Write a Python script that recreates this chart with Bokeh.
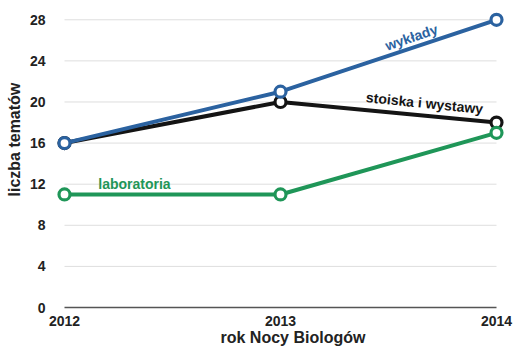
from bokeh.plotting import figure
from bokeh.models import FixedTicker, Label, ColumnDataSource, Title
from bokeh.embed import file_html
from bokeh.resources import INLINE
import math

# Number of topics per year of the "Noc Biologów" event
years = [2012, 2013, 2014]
wyklady = [16, 21, 28]
stoiska = [16, 20, 18]
laboratoria = [11, 11, 17]

y_ticks = [0, 4, 8, 12, 16, 20, 24, 28]

BLUE = "#2b62a0"
BLACK = "#141414"
GREEN = "#1f9658"
FONT = "Liberation Sans"

pad = 9 / 216
p = figure(width=513, height=346, output_backend="svg", toolbar_location=None,
           x_range=(years[0] - pad, years[-1] + pad), y_range=(0, 29),
           min_border_left=55, min_border_right=8, min_border_top=9, min_border_bottom=37)
p.outline_line_color = None
p.xgrid.visible = False
p.ygrid.visible = False

# light horizontal guides spanning the year range
grid_src = ColumnDataSource(dict(y=[t for t in y_ticks if t > 0]))
p.segment(x0=years[0], x1=years[-1], y0="y", y1="y", source=grid_src,
          line_color="#dedede", line_width=1)

for ax in (p.xaxis[0], p.yaxis[0]):
    ax.major_tick_line_color = None
    ax.minor_tick_line_color = None
    ax.major_label_text_font = FONT
    ax.major_label_text_font_style = "bold"
    ax.major_label_text_font_size = "14px"
    ax.major_label_text_color = "#222222"

p.xaxis.ticker = FixedTicker(ticks=years)
p.xaxis.bounds = (years[0], years[-1])
p.xaxis.axis_line_color = "#555555"
p.xaxis.axis_line_width = 1.5
p.xaxis.major_label_standoff = 2

p.yaxis.ticker = FixedTicker(ticks=y_ticks)
p.yaxis.axis_line_color = None
p.yaxis.major_label_standoff = 4

series = [
    (stoiska, BLACK),
    (laboratoria, GREEN),
    (wyklady, BLUE),
]
for vals, col in series:
    p.line(years, vals, line_color=col, line_width=4)
    p.scatter(years, vals, size=11, fill_color="white", line_color=col, line_width=3.2)

# series names written along the lines
ang_w = math.atan((wyklady[2] - wyklady[1]) * (300 / 29) / 216)
p.add_layout(Label(x=2013.606, y=26.3, text="wykłady", angle=ang_w,
                   text_align="center", text_baseline="middle", text_font=FONT,
                   text_font_style="bold", text_font_size="14px", text_color=BLUE))
p.add_layout(Label(x=2013.667, y=19.9, text="stoiska i wystawy", angle=-0.1,
                   text_align="center", text_baseline="middle", text_font=FONT,
                   text_font_style="bold", text_font_size="14px", text_color=BLACK))
p.add_layout(Label(x=2012.324, y=12.0, text="laboratoria",
                   text_align="center", text_baseline="middle", text_font=FONT,
                   text_font_style="bold", text_font_size="14px", text_color=GREEN))

# axis titles
p.add_layout(Title(text="rok Nocy Biologów", align="left", offset=165,
                   vertical_align="middle", standoff=-1, text_font=FONT,
                   text_font_style="bold", text_font_size="16px", text_color="#222222"),
             "below")
p.add_layout(Title(text="liczba tematów", align="left", offset=111,
                   vertical_align="middle", standoff=6, text_font=FONT,
                   text_font_style="bold", text_font_size="16px", text_color="#222222"),
             "left")

open("out.html", "w").write(file_html(p, INLINE))
